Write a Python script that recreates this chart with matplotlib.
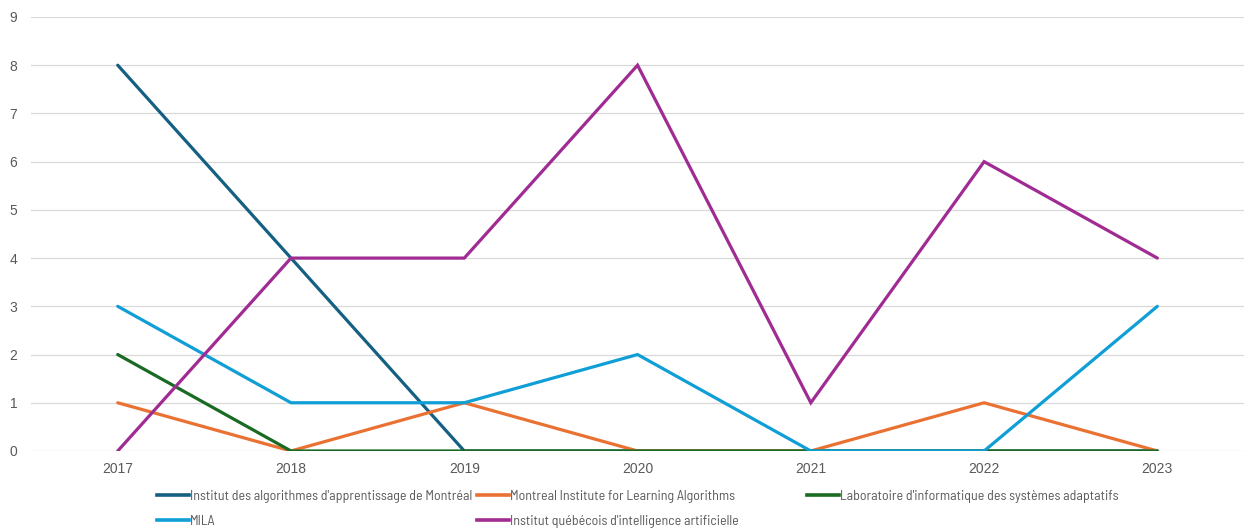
import matplotlib
matplotlib.use("Agg")
import matplotlib.pyplot as plt
from matplotlib import font_manager
from matplotlib.font_manager import FontProperties
from matplotlib.lines import Line2D

years = [2017, 2018, 2019, 2020, 2021, 2022, 2023]

series_names = [
    "Institut des algorithmes d'apprentissage de Montréal",
    "Montreal Institute for Learning Algorithms",
    "Laboratoire d'informatique des systèmes adaptatifs",
    "MILA",
    "Institut québécois d'intelligence artificielle",
]
iaam = [8, 4, 0, 0, 0, 0, 0]
mila_en = [1, 0, 1, 0, 0, 1, 0]
lisa = [2, 0, 0, 0, 0, 0, 0]
mila = [3, 1, 1, 2, 0, 0, 3]
iqia = [0, 4, 4, 8, 1, 6, 4]
series_values = [iaam, mila_en, lisa, mila, iqia]
colors = ["#156082", "#E97132", "#196B24", "#0F9ED5", "#A02B93"]

plt.rcParams["font.family"] = ["Liberation Sans", "DejaVu Sans"]


def condensed_font():
    """Pick an installed condensed/narrow sans face for the legend."""
    cands = []
    for f in font_manager.fontManager.ttflist:
        name = f.name.lower()
        fname = f.fname.lower()
        narrow = ("narrow" in name or "condensed" in name or "narrow" in fname
                  or "condensed" in fname or str(f.stretch) in
                  ("condensed", "semi-condensed", "500", "600", "700"))
        if narrow and f.style == "normal" and f.weight in (400, "normal", "regular"):
            score = 0
            if "semicondensed" in fname.replace("-", "").replace("_", ""):
                score -= 1
            if "extra" in fname or "ultra" in fname:
                score += 5
            if "mono" in fname or "serif" in name and "sans" not in name:
                score += 10
            cands.append((score, f.fname))
    if not cands:
        return None
    cands.sort()
    return cands[0][1]


cf = condensed_font()
if cf:
    legend_prop = FontProperties(fname=cf, size=10)
else:
    legend_prop = FontProperties(family="Liberation Sans", size=8)

fig = plt.figure(figsize=(12.44, 5.31), dpi=100)
ax = fig.add_axes([0.025, 0.1507, 0.975, 0.8173])

x = list(range(len(years)))
for vals, c in zip(series_values, colors):
    ax.plot(x, vals, color=c, linewidth=2.3, solid_capstyle="round",
            solid_joinstyle="miter")

ax.set_xlim(-0.5, len(years) - 0.5)
ax.set_ylim(0, 9)
ax.set_yticks(range(0, 10))
ax.set_xticks(x)
ax.set_xticklabels([str(y) for y in years])
ax.grid(axis="y", color="#d9d9d9", linewidth=0.9)
ax.set_axisbelow(True)
for s in ax.spines.values():
    s.set_visible(False)
ax.tick_params(axis="both", length=0, colors="#595959", labelsize=10)
ax.tick_params(axis="y", pad=10)
ax.tick_params(axis="x", pad=8)

# Legend laid out as three separate columns
columns = [([0, 3], 157), ([1, 4], 477), ([2], 807)]
for idxs, xpx in columns:
    handles = [Line2D([], [], color=colors[i], linewidth=2.6) for i in idxs]
    labels = [series_names[i] for i in idxs]
    leg = fig.legend(handles, labels, loc="upper left",
                     bbox_to_anchor=(xpx / 1244, 1 - 490 / 531),
                     frameon=False, handlelength=2.3, handletextpad=0.05,
                     labelspacing=0.85, borderpad=0, borderaxespad=0,
                     prop=legend_prop)
    for t in leg.get_texts():
        t.set_color("#595959")

fig.savefig("out.png", dpi=100, facecolor="white")
